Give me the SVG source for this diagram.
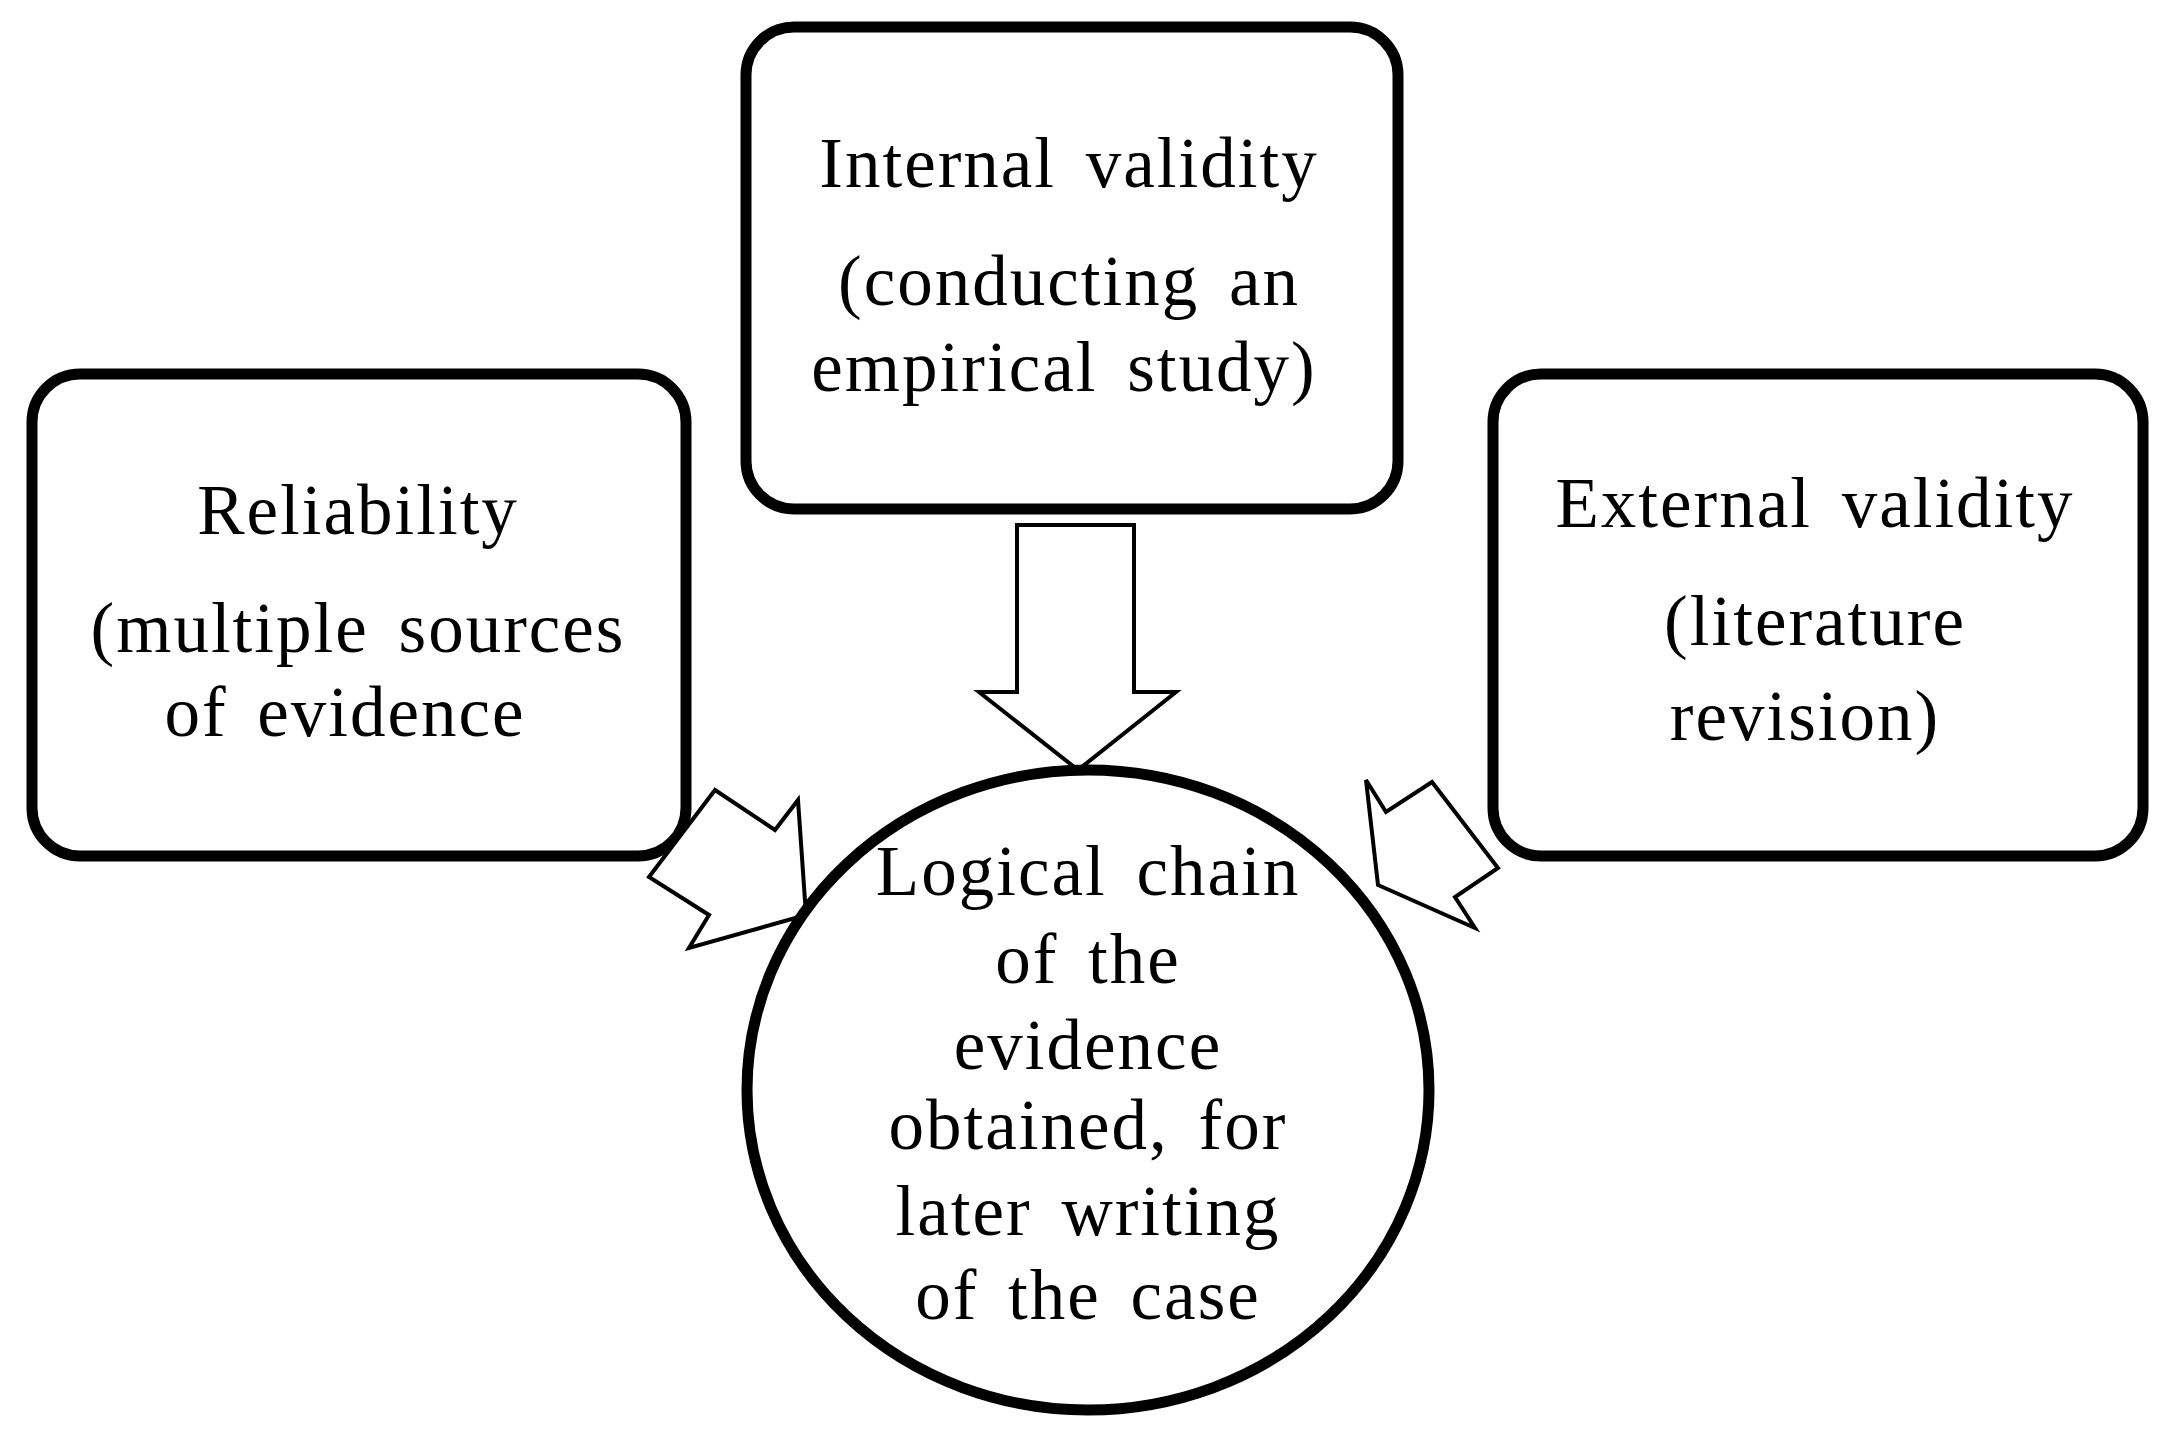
<svg xmlns="http://www.w3.org/2000/svg" width="2165" height="1430" viewBox="0 0 2165 1430">
<style>
.b{fill:#fff;stroke:#000;stroke-width:11}
.a{fill:#fff;stroke:#000;stroke-width:4;stroke-linejoin:miter}
text{font-family:"Liberation Serif","DejaVu Serif",serif;font-size:71px;text-anchor:middle;fill:#000;word-spacing:10px;letter-spacing:2px}
</style>
<rect width="2165" height="1430" fill="#fff"/>
<g id="internal"><rect class="b" x="746" y="27" width="652" height="482" rx="48"/>
<text x="1069" y="187">Internal validity</text><text x="1069" y="305">(conducting an</text><text x="1064" y="391">empirical study)</text></g>
<g id="reliability"><rect class="b" x="32" y="374" width="654" height="482" rx="48"/>
<text x="358" y="534">Reliability</text><text x="358" y="652">(multiple sources</text><text x="345" y="736">of evidence</text></g>
<g id="external"><rect class="b" x="1493" y="374" width="650" height="482" rx="48"/>
<text x="1815" y="527">External validity</text><text x="1815" y="645">(literature</text><text x="1805" y="740">revision)</text></g>
<g id="connectors">
<polygon class="a" points="1017,525 1134,525 1134,692 1176,692 1078,770 979,692 1017,692"/>
<polygon class="a" points="715,790 775,830 798,800 806,915 689,948 709,915 649,877"/>
<polygon class="a" points="1366,780 1386,812 1432,782 1498,868 1455,897 1475,928 1378,885"/>
</g>
<g id="logical"><ellipse class="b" cx="1088" cy="1090" rx="341" ry="320"/>
<text x="1088" y="895">Logical chain</text><text x="1088" y="983">of the</text><text x="1088" y="1069">evidence</text><text x="1088" y="1149">obtained, for</text><text x="1088" y="1235">later writing</text><text x="1088" y="1319">of the case</text></g>
</svg>
